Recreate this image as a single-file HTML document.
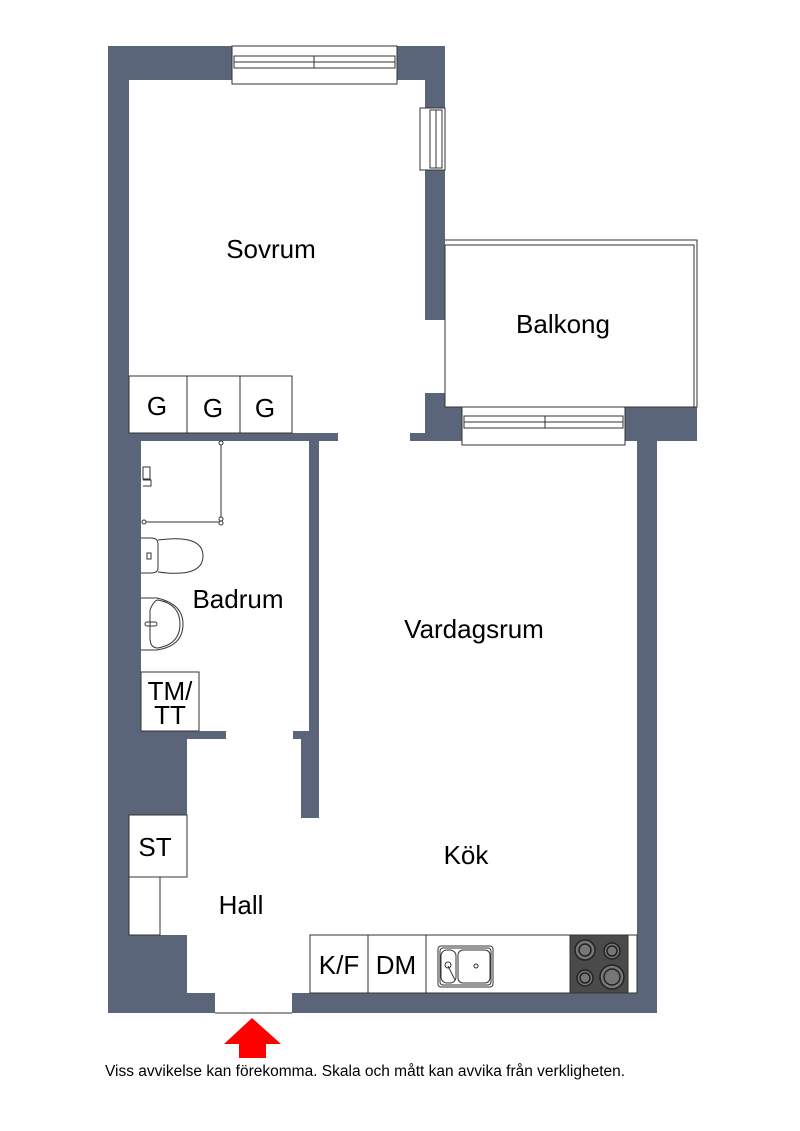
<!DOCTYPE html>
<html><head><meta charset="utf-8"><style>
html,body{margin:0;padding:0;background:#fff}
svg{display:block}
text{font-family:"Liberation Sans",Arial,sans-serif;fill:#000}
</style></head><body>
<svg width="800" height="1131" viewBox="0 0 800 1131" xmlns="http://www.w3.org/2000/svg">
<g fill="#5b6579">
<rect x="108" y="46" width="21" height="967"/>
<rect x="108" y="441" width="33" height="298"/>
<rect x="108" y="739" width="79" height="76"/>
<rect x="108" y="935" width="79" height="78"/>
<rect x="108" y="46" width="124" height="34"/>
<rect x="397" y="46" width="48" height="34"/>
<rect x="425" y="46" width="20" height="62"/>
<rect x="425" y="170" width="20" height="150"/>
<rect x="425" y="393" width="20" height="48"/>
<rect x="410" y="433" width="35" height="8"/>
<rect x="445" y="407" width="17" height="34"/>
<rect x="625" y="407" width="72" height="34"/>
<rect x="637" y="407" width="20" height="606"/>
<rect x="108" y="993" width="107" height="20"/>
<rect x="292" y="993" width="365" height="20"/>
<rect x="129" y="433" width="209" height="8"/>
<rect x="309" y="441" width="10" height="290"/>
<rect x="293" y="731" width="26" height="8"/>
<rect x="301" y="739" width="18" height="79"/>
<rect x="141" y="731" width="85" height="8"/>
</g>
<g fill="none" stroke="#333" stroke-width="1">
<rect x="232" y="46" width="165" height="38" fill="#fff"/>
<rect x="234" y="56" width="161" height="12"/>
<line x1="234" y1="62" x2="395" y2="62"/>
<line x1="314" y1="56" x2="314" y2="68"/>
<rect x="420" y="108" width="25" height="62" fill="#fff"/>
<rect x="430" y="110" width="12" height="58"/>
<line x1="436" y1="110" x2="436" y2="168"/>
<rect x="462" y="407" width="163" height="38" fill="#fff"/>
<rect x="464" y="416" width="159" height="12"/>
<line x1="464" y1="422" x2="623" y2="422"/>
<line x1="545" y1="416" x2="545" y2="428"/>
<rect x="445" y="245" width="249" height="162"/>
<polyline points="445,240 697,240 697,407 694,407"/>
<rect x="129" y="376" width="58" height="57" fill="#fff"/>
<rect x="187" y="376" width="53" height="57" fill="#fff"/>
<rect x="240" y="376" width="52" height="57" fill="#fff"/>
<line x1="221" y1="444" x2="221" y2="522"/>
<line x1="143" y1="522" x2="221" y2="522"/>
<circle cx="221" cy="443" r="2" fill="#fff"/>
<circle cx="221" cy="519" r="2" fill="#fff"/>
<circle cx="221" cy="523" r="2" fill="#fff"/>
<circle cx="144" cy="522" r="2" fill="#fff"/>
<rect x="143" y="467" width="7" height="12"/>
<path d="M143 480 h8 v6 h-8"/>
<path d="M141 538 h10 q7 0 7 6 v24 q0 5 -7 5 h-10"/>
<path d="M158 540 q45 -6 45 16 q0 22 -45 16"/>
<rect x="147" y="553" width="4" height="6"/>
<path d="M141 598 h16 q26 6 26 26 q0 22 -26 26 h-16"/>
<path d="M150 610 q4 -10 8 -10 q22 4 22 24 q0 20 -22 24 q-8 0 -8 -10 z"/>
<rect x="145" y="622" width="12" height="4" rx="2"/>
<rect x="141" y="672" width="58" height="59" fill="#fff"/>
<rect x="129" y="815" width="58" height="62" fill="#fff"/>
<rect x="129" y="877" width="31" height="58" fill="#fff"/>
<line x1="215" y1="1013" x2="292" y2="1013"/>
<rect x="310" y="935" width="327" height="58" fill="#fff"/>
<line x1="368" y1="935" x2="368" y2="993"/>
<line x1="426" y1="935" x2="426" y2="993"/>
<rect x="438" y="946" width="55" height="41" rx="3"/>
<rect x="440" y="948" width="51" height="37" rx="3"/>
<rect x="441" y="950" width="15" height="33" rx="6"/>
<rect x="458" y="950" width="32" height="33" rx="5"/>
<circle cx="448" cy="965" r="3"/>
<circle cx="476" cy="966" r="2"/>
<line x1="448" y1="966" x2="455" y2="980"/>
</g>
<rect x="570" y="935" width="58" height="58" fill="#4a4a4a" stroke="#333"/>
<g stroke="#222" stroke-width="1.5" fill="#777">
<circle cx="585" cy="950" r="10"/><circle cx="585" cy="950" r="6"/>
<circle cx="612" cy="951" r="8"/><circle cx="612" cy="951" r="5"/>
<circle cx="585" cy="978" r="8"/><circle cx="585" cy="978" r="5"/>
<circle cx="612" cy="977" r="12"/><circle cx="612" cy="977" r="8"/>
</g>
<polygon points="252,1018 281,1044 266,1044 266,1058 239,1058 239,1044 224,1044" fill="#f00"/>
<g font-size="26" text-anchor="middle">
<text x="271" y="258">Sovrum</text>
<text x="563" y="333">Balkong</text>
<text x="238" y="608">Badrum</text>
<text x="474" y="638">Vardagsrum</text>
<text x="466" y="864">Kök</text>
<text x="241" y="914">Hall</text>
<text x="157" y="415">G</text>
<text x="213" y="417">G</text>
<text x="265" y="417">G</text>
<text x="170" y="700">TM/</text>
<text x="170" y="724">TT</text>
<text x="155" y="856">ST</text>
<text x="339" y="974">K/F</text>
<text x="396" y="974">DM</text>
</g>
<text x="105" y="1076" font-size="15.5">Viss avvikelse kan förekomma. Skala och mått kan avvika från verkligheten.</text>
</svg>
</body></html>
